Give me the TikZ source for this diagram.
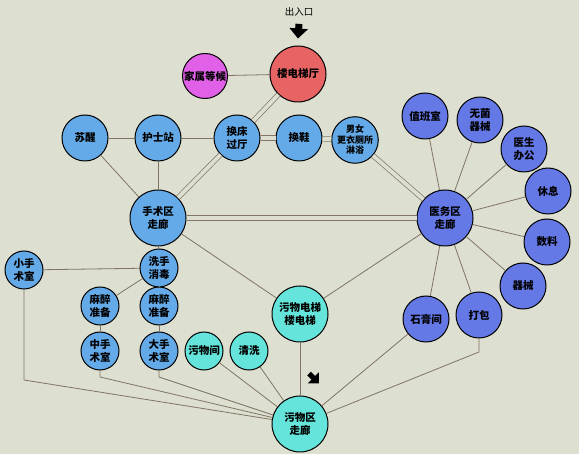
\documentclass[tikz,border=0pt]{standalone}
\usepackage{fontspec}
\setmainfont{Noto Sans CJK SC}
\usetikzlibrary{arrows.meta}
\definecolor{bgc}{RGB}{221,223,208}
\definecolor{lnc}{RGB}{128,116,100}
\definecolor{opc}{RGB}{100,170,232}
\definecolor{medc}{RGB}{100,120,230}
\definecolor{dirtc}{RGB}{100,228,218}
\definecolor{liftc}{RGB}{232,100,100}
\definecolor{famc}{RGB}{224,96,232}
\tikzset{
  room/.style ={circle, draw=black, line width=1pt, inner sep=0pt, align=center,
                font=\bfseries\fontsize{10.5}{12.5}\selectfont},
  big/.style  ={room, minimum size=56pt},
  mid/.style  ={room, minimum size=46pt},
  sml/.style  ={room, minimum size=38pt},
  ln/.style   ={draw=lnc, line width=0.8pt},
  dbl/.style  ={draw=lnc, line width=0.7pt, double=bgc, double distance=3.8pt},
  flowmark/.style ={line width=7pt, -{Triangle[length=10pt,width=18pt]}},
}

\begin{document}
\begin{tikzpicture}[x=1pt,y=-1pt]
  \fill[bgc] (0,0) rectangle (579,454);

  % entrance
  \node[font=\fontsize{9.5}{10}\selectfont](entry) at (299,12){出入口};
  \node[big, fill=liftc](lobby) at (298,74){楼电梯厅};
  \node[room, minimum size=45pt, fill=famc](wait) at (205,76){家属等候};

  % clean corridor row
  \node[mid, fill=opc](wake)  at (85,138){苏醒};
  \node[mid, fill=opc](nurse) at (158,138){护士站};
  \node[mid, fill=opc](bedx)  at (237,138){换床\\过厅};
  \node[mid, fill=opc](shoe)  at (299,138){换鞋};
  \node[mid, fill=opc, font=\bfseries\fontsize{9}{10.5}\selectfont](dress) at (355,140)
        {男女\\更衣厕所\\淋浴};

  % theatre side
  \node[big, fill=opc](opcor) at (158,218){手术区\\走廊};
  \node[sml, fill=opc](small) at (24,270){小手\\术室};
  \node[sml, fill=opc](wash)  at (159,268){洗手\\消毒};
  \node[sml, fill=opc](anL)   at (100,306){麻醉\\准备};
  \node[sml, fill=opc](anR)   at (159,306){麻醉\\准备};
  \node[sml, fill=opc](medop) at (100,351){中手\\术室};
  \node[sml, fill=opc](bigop) at (159,351){大手\\术室};

  % staff side
  \node[big, fill=medc](staff) at (445,218){医务区\\走廊};
  \node[mid, fill=medc](duty)  at (425,116){值班室};
  \node[mid, fill=medc](ster)  at (480,120){无菌\\器械};
  \node[mid, fill=medc](doc)   at (524,149){医生\\办公};
  \node[mid, fill=medc](rest)  at (548,191){休息};
  \node[mid, fill=medc](supp)  at (547,242){数料};
  \node[mid, fill=medc](inst)  at (523,286){器械};
  \node[mid, fill=medc](pack)  at (479,315){打包};
  \node[mid, fill=medc](cast)  at (426,319){石膏间};

  % dirty side
  \node[big, fill=dirtc](lift)  at (300,314){污物电梯\\楼电梯};
  \node[big, fill=dirtc](dirty) at (300,424){污物区\\走廊};
  \node[sml, fill=dirtc](soil)  at (204,351){污物间};
  \node[sml, fill=dirtc](clean) at (249,351){清洗};

  \coordinate (k1) at (24,380);
  \coordinate (k2) at (100,377);
  \coordinate (k3) at (159,377);
  \coordinate (k4) at (479,352);

  \draw[ln](wait)--(lobby);
  \draw[dbl](lobby)--(bedx);
  \draw[ln](wake)--(nurse); \draw[ln](nurse)--(bedx);
  \draw[dbl](bedx)--(shoe); \draw[dbl](shoe)--(dress);
  \draw[dbl](dress)--(staff);
  \draw[ln](wake)--(opcor); \draw[ln](nurse)--(opcor);
  \draw[dbl](bedx)--(opcor);
  \draw[dbl](opcor)--(staff);
  \draw[ln](opcor)--(wash); \draw[ln](opcor)--(lift);
  \draw[ln](small)--(wash);
  \draw[ln](wash)--(anL); \draw[ln](wash)--(anR);
  \draw[ln](anL)--(medop); \draw[ln](anR)--(bigop);
  \draw[ln](small)--(k1)--(dirty);
  \draw[ln](medop)--(k2)--(dirty);
  \draw[ln](bigop)--(k3)--(dirty);
  \draw[ln](soil)--(dirty); \draw[ln](clean)--(dirty);
  \draw[ln](lift)--(dirty); \draw[ln](lift)--(staff);
  \draw[ln](cast)--(dirty);
  \draw[ln](pack)--(k4)--(dirty);
  \foreach \r in {duty,ster,doc,rest,supp,inst,pack,cast}
    \draw[ln](staff)--(\r);

  % flow marks
  \draw[flowmark]([yshift=-4pt]entry.south)--([yshift=7pt]lobby.north);
  \draw[flowmark, line width=5pt, -{Triangle[length=8pt,width=15pt]}]
        ([shift={(9pt,-31pt)}]lift.south)--++(10pt,-10pt);
\end{tikzpicture}
\end{document}
